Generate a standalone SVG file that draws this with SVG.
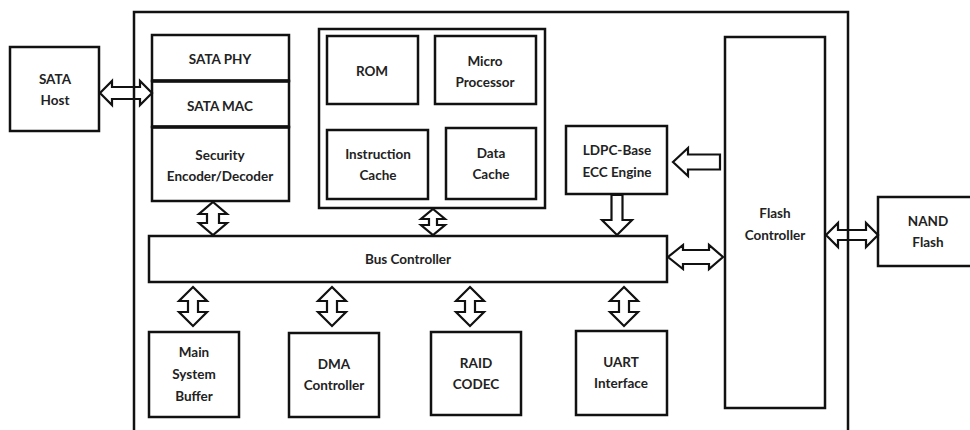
<svg xmlns="http://www.w3.org/2000/svg" width="970" height="430" viewBox="0 0 970 430">
<style>
.box{fill:#fff;stroke:#111;stroke-width:2.5}
.thick{fill:none;stroke:#111;stroke-width:3.5}
.arr{fill:none;stroke:#111;stroke-width:2.2;stroke-linejoin:miter}
text{font-family:Lato,"Open Sans","Liberation Sans",sans-serif;font-weight:bold;font-size:13.5px;fill:#222;text-anchor:middle}
</style>
<rect x="0" y="0" width="970" height="430" fill="#fff"/>
<g id="frame"><rect x="134" y="12" width="714" height="460" fill="none" stroke="#111" stroke-width="2.5"/></g>
<g id="sata-host"><rect class="box" x="10" y="47" width="89" height="84"/><text x="55" y="84">SATA</text><text x="55" y="105">Host</text></g>
<g id="sata-phy"><rect class="box" x="152" y="35" width="137" height="46"/><text x="220" y="64">SATA PHY</text></g>
<g id="sata-mac"><rect class="box" x="152" y="81" width="137" height="46"/><text x="220" y="111">SATA MAC</text></g>
<g id="security"><rect class="box" x="152" y="127" width="137" height="74"/><text x="220" y="160">Security</text><text x="220" y="181">Encoder/Decoder</text></g>
<line class="thick" x1="152" y1="81" x2="289" y2="81"/>
<line class="thick" x1="152" y1="127" x2="289" y2="127"/>
<g id="cpu"><rect class="box" x="319" y="29" width="226" height="179" stroke-width="3"/></g>
<g id="rom"><rect class="box" x="327" y="36" width="91" height="68"/><text x="372" y="76">ROM</text></g>
<g id="micro"><rect class="box" x="435" y="36" width="101" height="68"/><text x="485" y="66">Micro</text><text x="485" y="87">Processor</text></g>
<g id="icache"><rect class="box" x="327" y="130" width="101" height="69"/><text x="378" y="159">Instruction</text><text x="378" y="180">Cache</text></g>
<g id="dcache"><rect class="box" x="446" y="128" width="90" height="71"/><text x="491" y="158">Data</text><text x="491" y="179">Cache</text></g>
<g id="ldpc"><rect class="box" x="566" y="126" width="101" height="68"/><text x="617" y="155">LDPC-Base</text><text x="617" y="177">ECC Engine</text></g>
<g id="flash-ctrl"><rect class="box" x="725" y="37" width="100" height="371"/><text x="775" y="218">Flash</text><text x="775" y="240">Controller</text></g>
<g id="nand"><rect class="box" x="878" y="197" width="100" height="69"/><text x="928" y="226">NAND</text><text x="928" y="247">Flash</text></g>
<g id="bus"><rect class="box" x="149" y="236" width="518" height="46"/><text x="408" y="264">Bus Controller</text></g>
<g id="buffer"><rect class="box" x="149" y="332" width="90" height="85"/><text x="194" y="357">Main</text><text x="194" y="379">System</text><text x="194" y="401">Buffer</text></g>
<g id="dma"><rect class="box" x="289" y="333" width="90" height="84"/><text x="334" y="369">DMA</text><text x="334" y="390">Controller</text></g>
<g id="raid"><rect class="box" x="431" y="332" width="90" height="83"/><text x="476" y="368">RAID</text><text x="476" y="389">CODEC</text></g>
<g id="uart"><rect class="box" x="576" y="331" width="91" height="84"/><text x="621" y="367">UART</text><text x="621" y="388">Interface</text></g>
<g id="connectors">
<polygon class="arr" points="100,93 112,81 112,87 140,87 140,81 152,93 140,105 140,99 112,99 112,105"/>
<polygon class="arr" points="826,235 838,223 838,230 866,230 866,223 878,235 866,247 866,240 838,240 838,247"/>
<polygon class="arr" points="668,257 683,245 683,250 709,250 709,245 723,257 709,269 709,264 683,264 683,269"/>
<polygon class="arr" points="673,162 688,148 688,154.5 720,154.5 720,169.5 688,169.5 688,176"/>
<polygon class="arr" points="611.5,195 622.5,195 622.5,220 632,220 617,235 602,220 611.5,220"/>
<polygon class="arr" points="213,202 227,214 219,214 219,223 227,223 213,235 199,223 207,223 207,214 199,214"/>
<polygon class="arr" points="433,209 445,219 437,219 437,225 445,225 433,235 421,225 429,225 429,219 421,219"/>
<polygon class="arr" points="193,287 207,301 198,301 198,312 207,312 193,326 179,312 188,312 188,301 179,301"/>
<polygon class="arr" points="332,287 346,301 337,301 337,312 346,312 332,326 318,312 327,312 327,301 318,301"/>
<polygon class="arr" points="470,287 484,301 475,301 475,312 484,312 470,326 456,312 465,312 465,301 456,301"/>
<polygon class="arr" points="624,287 638,301 629,301 629,312 638,312 624,326 610,312 619,312 619,301 610,301"/>
</g>
</svg>
